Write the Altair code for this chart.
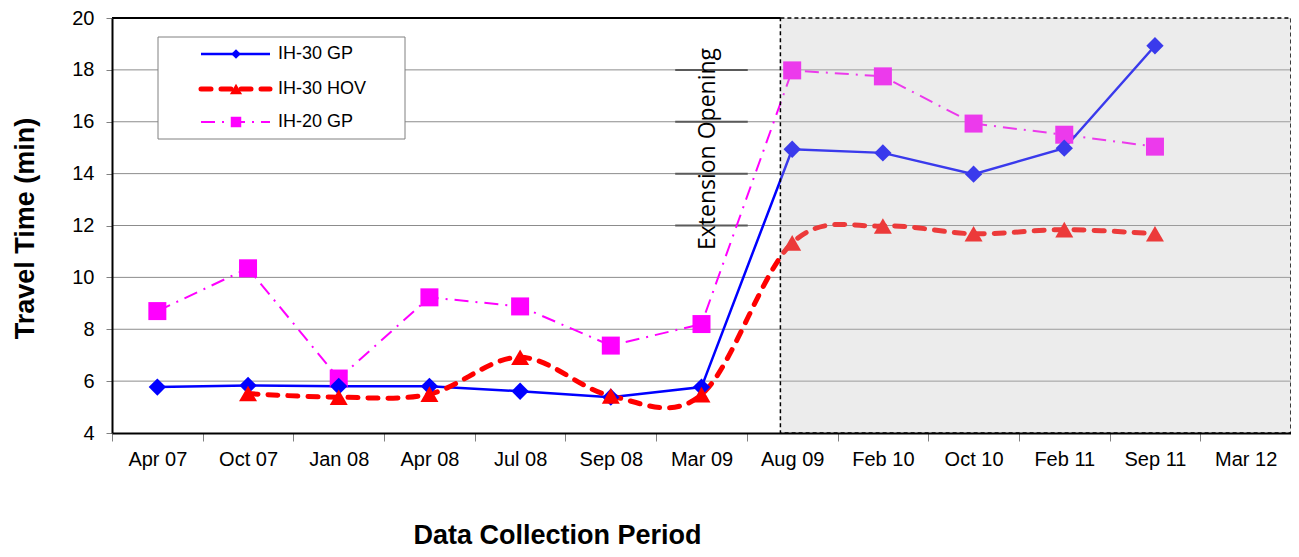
import altair as alt
import pandas as pd

# ---------------- data ----------------
periods = ["Apr 07", "Oct 07", "Jan 08", "Apr 08", "Jul 08", "Sep 08", "Mar 09",
           "Aug 09", "Feb 10", "Oct 10", "Feb 11", "Sep 11", "Mar 12"]
ih30_gp = [5.77, 5.83, 5.8, 5.8, 5.61, 5.38, 5.77, 14.94, 14.8, 13.98, 14.98, 18.93, None]
ih30_hov = [None, 5.52, 5.38, 5.5, 6.92, 5.43, 5.48, 11.33, 11.98, 11.68, 11.84, 11.68, None]
ih20_gp = [8.7, 10.35, 6.1, 9.23, 8.88, 7.37, 8.2, 17.98, 17.75, 15.93, 15.5, 15.04, None]
series_names = ["IH-30 GP", "IH-30 HOV", "IH-20 GP"]
y_ticks = [4, 6, 8, 10, 12, 14, 16, 18, 20]
grid_values = [6, 8, 10, 12, 14, 16, 18]
label_grid_values = [12, 14, 16, 18]
shade_start = 7.37          # in category units (after-extension period)
label_box_range = [6.21, 7.01]

# ---------------- layout ----------------
W, H = 1179, 415
n = len(periods)
band = W / n

xs = alt.Scale(domain=[0, n], nice=False, zero=False)
ys = alt.Scale(domain=[4, 20], nice=False, zero=False)

label_array = "[" + ",".join("'%s'" % p for p in periods) + "]"
xaxis = alt.Axis(
    values=list(range(n + 1)),
    labelExpr=label_array + "[datum.value] || ''",
    labelOffset=band / 2,
    labelFlush=False, labelOverlap=False, labelBound=False,
    tickSize=8, tickColor="#808080", tickWidth=1,
    domainColor="black", domainWidth=2,
    labelFont="Liberation Sans", labelFontSize=20, labelColor="black",
    labelBaseline="alphabetic", labelPadding=24,
    grid=False,
    title="Data Collection Period", titleFont="Liberation Sans", titleFontSize=27,
    titleFontWeight="bold", titleColor="black",
    titleX=445, titleY=110, titleAlign="center", titleBaseline="alphabetic",
    zindex=1,
)
yaxis = alt.Axis(
    values=y_ticks,
    labelFlush=False, labelOverlap=False,
    tickSize=6, tickColor="#808080", tickWidth=1,
    domainColor="black", domainWidth=2,
    labelFont="Liberation Sans", labelFontSize=20, labelColor="black",
    labelPadding=12,
    grid=False,
    title="Travel Time (min)", titleFont="Liberation Sans", titleFontSize=27,
    titleFontWeight="bold", titleColor="black",
    titleX=-79, titleY=210, titleAngle=270, titleAlign="center",
    titleBaseline="alphabetic",
    zindex=1,
)

X = alt.X("x:Q", scale=xs, axis=xaxis)
Y = alt.Y("y:Q", scale=ys, axis=yaxis)


def series_df(vals):
    rows = [{"x": i + 0.5, "y": v} for i, v in enumerate(vals) if v is not None]
    return pd.DataFrame(rows)


# gridlines
grid = alt.Chart(pd.DataFrame({"y": grid_values})).mark_rule(
    color="#8c8c8c", strokeWidth=1
).encode(y=Y)

# darker grid segments behind the label box
lab_grid = alt.Chart(pd.DataFrame({
    "y": label_grid_values,
    "x": [label_box_range[0]] * len(label_grid_values),
    "x2": [label_box_range[1]] * len(label_grid_values),
})).mark_rule(color="#5a5a5a", strokeWidth=2).encode(x=X, x2="x2:Q", y=Y)

# top border of plot area
top_border = alt.Chart(pd.DataFrame({"x": [0], "x2": [shade_start], "y": [20]})).mark_rule(
    color="black", strokeWidth=2
).encode(x=X, x2="x2:Q", y=Y)

# series
gp30 = series_df(ih30_gp)
hov30 = series_df(ih30_hov)
gp20 = series_df(ih20_gp)

l_gp20 = alt.Chart(gp20).mark_line(color="#FF00FF", strokeWidth=2,
                                   strokeDash=[14, 7, 2, 7]).encode(x=X, y=Y)
p_gp20 = alt.Chart(gp20).mark_point(shape="square", size=324, filled=True,
                                    color="#FF00FF", opacity=1).encode(x=X, y=Y)

l_gp30 = alt.Chart(gp30).mark_line(color="#0000FF", strokeWidth=2.5).encode(x=X, y=Y)
p_gp30 = alt.Chart(gp30).mark_point(shape="diamond", size=300, filled=True,
                                    color="#0000FF", opacity=1).encode(x=X, y=Y)

l_hov30 = alt.Chart(hov30).mark_line(color="#FF0000", strokeWidth=5, strokeDash=[10, 10],
                                     strokeCap="round", interpolate="cardinal",
                                     tension=0).encode(x=X, y=Y)
p_hov30 = alt.Chart(hov30).mark_point(shape="triangle-up", size=324, filled=True,
                                      color="#FF0000", opacity=1).encode(x=X, y=Y)

# shaded post-extension region (drawn on top, translucent)
shade = alt.Chart(pd.DataFrame({"x": [shade_start], "x2": [n], "y": [4], "y2": [20]})).mark_rect(
    fill="#c0c0c0", fillOpacity=0.3, stroke="black", strokeDash=[4, 3], strokeWidth=1.5
).encode(x=X, x2="x2:Q", y=Y, y2="y2:Q")

# annotation
one = pd.DataFrame({"a": [0]})
ext_text = alt.Chart(one).mark_text(
    text="Extension Opening", font="Open Sans", fontSize=23, angle=270,
    align="center", baseline="alphabetic", color="black"
).encode(x=alt.value(603), y=alt.value(131))

# legend (manual, Excel style)
legend_layers = [
    alt.Chart(one).mark_rect(fill="white", stroke="#808080", strokeWidth=1).encode(
        x=alt.value(46), x2=alt.value(293), y=alt.value(19), y2=alt.value(121))
]
leg_styles = [
    dict(color="#0000FF", strokeWidth=2.5, shape="diamond", size=90),
    dict(color="#FF0000", strokeWidth=5, strokeDash=[10, 10], strokeCap="round",
         shape="triangle-up", size=150),
    dict(color="#FF00FF", strokeWidth=2, strokeDash=[14, 7, 2, 7], shape="square", size=110),
]
leg_y = [36, 71, 104]
for name, st, yy in zip(series_names, leg_styles, leg_y):
    rule_kw = {k: st[k] for k in ("color", "strokeWidth", "strokeDash", "strokeCap") if k in st}
    legend_layers.append(alt.Chart(one).mark_rule(**rule_kw).encode(
        x=alt.value(89), x2=alt.value(158), y=alt.value(yy)))
    legend_layers.append(alt.Chart(one).mark_point(
        shape=st["shape"], size=st["size"], filled=True, color=st["color"], opacity=1
    ).encode(x=alt.value(124), y=alt.value(yy)))
    legend_layers.append(alt.Chart(one).mark_text(
        text=name, font="Liberation Sans", fontSize=18, align="left",
        baseline="middle", color="black"
    ).encode(x=alt.value(166), y=alt.value(yy)))

chart = alt.layer(
    grid, lab_grid,
    l_gp20, l_gp30, l_hov30,
    p_gp20, p_gp30, p_hov30,
    shade, top_border, ext_text,
    *legend_layers,
).properties(
    width=W, height=H,
    padding={"left": 104, "top": 10, "right": 0, "bottom": 116},
    autosize=alt.AutoSizeParams(type="none"),
).configure_view(stroke=None).configure(background="white")

chart.save("out.html", embed_options={"renderer": "svg", "actions": False})
